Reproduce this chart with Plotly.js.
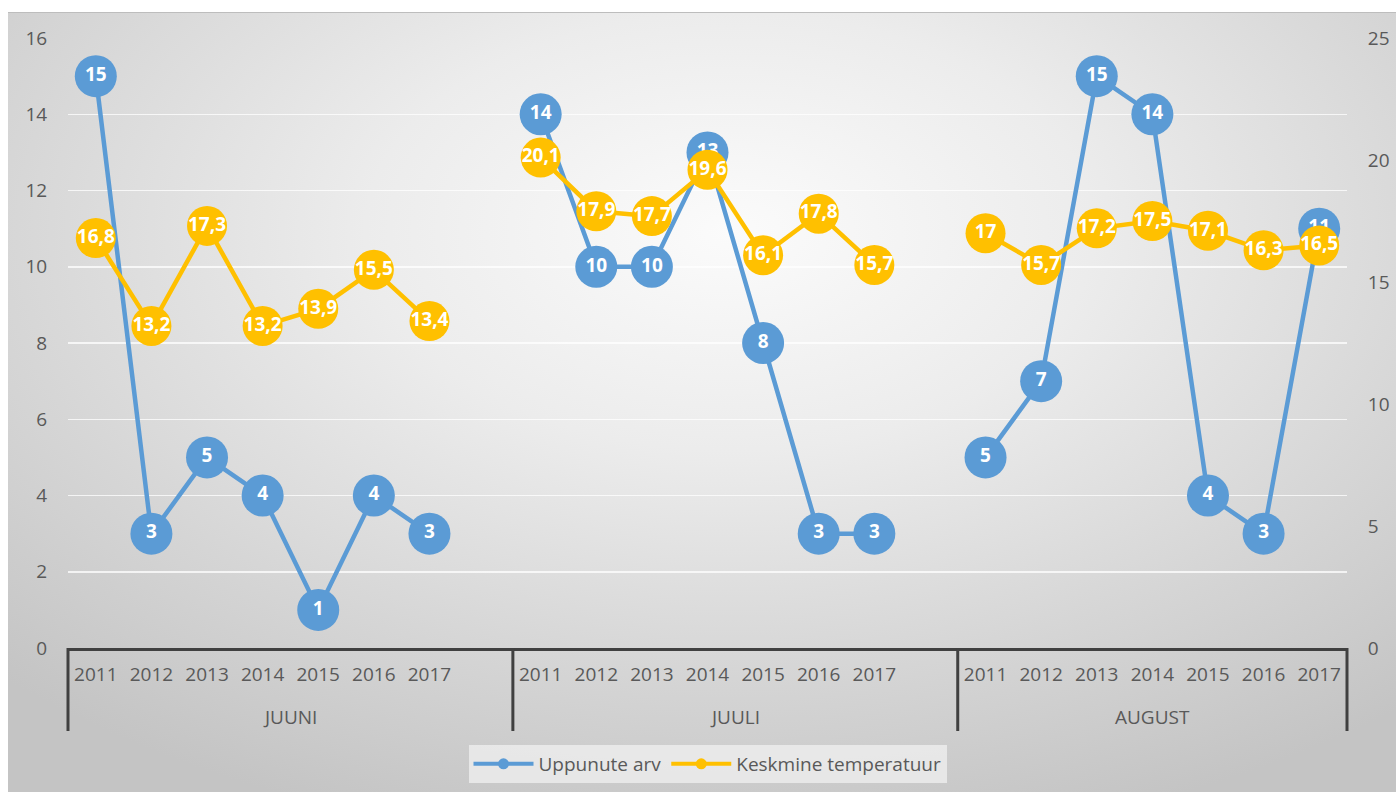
<!DOCTYPE html>
<html>
<head>
<meta charset="utf-8">
<script src="https://cdn.plot.ly/plotly-3.0.1.min.js"></script>
<style>
  html, body { margin: 0; padding: 0; background: #ffffff; }
  #bg { position: absolute; left: 8px; top: 12px; width: 1388px; height: 780px;
        background: radial-gradient(ellipse 75% 80% at 52% 28%, #fbfbfb 0%, #ececec 35%, #d6d6d6 70%, #c4c4c4 100%);
        border-top: 1px solid #bdbdbd; }
  #chart { position: absolute; left: 0; top: 0; width: 1396px; height: 792px; }
</style>
</head>
<body>
<div id="bg"></div>
<div id="chart"></div>
<script>
const months = ["JUUNI", "JUULI", "AUGUST"];
const years = ["2011", "2012", "2013", "2014", "2015", "2016", "2017"];

const uppunuteJuuni = [15, 3, 5, 4, 1, 4, 3];
const uppunuteJuuli = [14, 10, 10, 13, 8, 3, 3];
const uppunuteAugust = [5, 7, 15, 14, 4, 3, 11];

const tempJuuni = [16.8, 13.2, 17.3, 13.2, 13.9, 15.5, 13.4];
const tempJuuli = [20.1, 17.9, 17.7, 19.6, 16.1, 17.8, 15.7];
const tempAugust = [17, 15.7, 17.2, 17.5, 17.1, 16.3, 16.5];

const seriesNames = ["Uppunute arv", "Keskmine temperatuur"];

// Build category positions: each month group has its years plus one empty slot (except last)
const uppGroups = [uppunuteJuuni, uppunuteJuuli, uppunuteAugust];
const tempGroups = [tempJuuni, tempJuuli, tempAugust];
const slot = years.length + 1;
const nCats = months.length * slot - 1;

const xs = [], upp = [], temp = [], tickvals = [], ticktext = [];
months.forEach((m, gi) => {
  years.forEach((yr, yi) => {
    const xi = gi * slot + yi;
    xs.push(xi); upp.push(uppGroups[gi][yi]); temp.push(tempGroups[gi][yi]);
    tickvals.push(xi); ticktext.push(yr);
  });
  if (gi < months.length - 1) { xs.push(gi * slot + years.length); upp.push(null); temp.push(null); }
});
const fmt = v => v === null ? "" : String(v).replace(".", ",");

const blue = "#5B9BD5", gold = "#FFC000", txt = "#595959";
const labelFont = {family: "Open Sans, sans-serif", size: 19, color: "#ffffff", weight: "bold"};

const traces = [
  {x: xs, y: upp, yaxis: "y", mode: "lines+markers+text", text: upp.map(fmt),
   textposition: "middle center", textfont: labelFont, connectgaps: false,
   line: {color: blue, width: 4.5}, marker: {color: blue, size: 42}, showlegend: false, hoverinfo: "skip", cliponaxis: false},
  {x: xs, y: temp, yaxis: "y2", mode: "lines+markers+text", text: temp.map(fmt),
   textposition: "middle center", textfont: labelFont, connectgaps: false,
   line: {color: gold, width: 4.5}, marker: {color: gold, size: 40}, showlegend: false, hoverinfo: "skip", cliponaxis: false},
  {x: [null], y: [null], name: seriesNames[0], mode: "lines+markers", line: {color: blue, width: 4}, marker: {color: blue, size: 11}},
  {x: [null], y: [null], name: seriesNames[1], mode: "lines+markers", line: {color: gold, width: 4}, marker: {color: gold, size: 11}}
];

const plotTop = 38, plotBottom = 648;
const ph = plotBottom - plotTop;
const shapes = [];
for (let b = 0; b <= months.length; b++) {
  const px = b === months.length ? 1 : (b * slot) / nCats;
  shapes.push({type: "line", xref: "paper", yref: "paper", x0: px, x1: px, y0: 0, y1: -(731 - plotBottom) / ph,
               line: {color: "#404040", width: 3}});
}
const annotations = months.map((m, gi) => ({
  text: m, xref: "x", yref: "paper", x: gi * slot + (years.length - 1) / 2 + (gi < months.length - 1 ? 0.5 : 0),
  y: -(717 - plotBottom) / ph, showarrow: false, yanchor: "middle",
  font: {family: "Open Sans, sans-serif", size: 19, color: txt}
}));

const layout = {
  width: 1396, height: 792,
  paper_bgcolor: "rgba(0,0,0,0)", plot_bgcolor: "rgba(0,0,0,0)",
  margin: {l: 68, r: 49, t: plotTop, b: 792 - plotBottom, pad: 0, autoexpand: false},
  font: {family: "Open Sans, sans-serif", size: 19, color: txt},
  showlegend: true,
  legend: {orientation: "h", xref: "paper", x: 0.5, xanchor: "center", yref: "container", y: 1 - 745 / 792, yanchor: "top",
           bgcolor: "rgba(240,240,240,0.75)", font: {size: 19, color: txt}, itemwidth: 60},
  xaxis: {range: [-0.5, nCats - 0.5], tickvals: tickvals, ticktext: ticktext, ticks: "outside",
          ticklen: 7, tickcolor: "rgba(0,0,0,0)", showgrid: false, zeroline: false, automargin: false,
          showline: true, linecolor: "#404040", linewidth: 3, tickfont: {size: 19, color: txt}},
  yaxis: {range: [0, 16], dtick: 2, showgrid: true, gridcolor: "rgba(255,255,255,0.75)", gridwidth: 1.5, automargin: false,
          zeroline: false, ticks: "outside", ticklen: 16, tickcolor: "rgba(0,0,0,0)", tickfont: {size: 19, color: txt}},
  yaxis2: {range: [0, 25], dtick: 5, overlaying: "y", side: "right", showgrid: false, zeroline: false, automargin: false,
           ticks: "outside", ticklen: 16, tickcolor: "rgba(0,0,0,0)", tickfont: {size: 19, color: txt}},
  shapes: shapes, annotations: annotations
};

Plotly.newPlot("chart", traces, layout, {staticPlot: true});
</script>
</body>
</html>
